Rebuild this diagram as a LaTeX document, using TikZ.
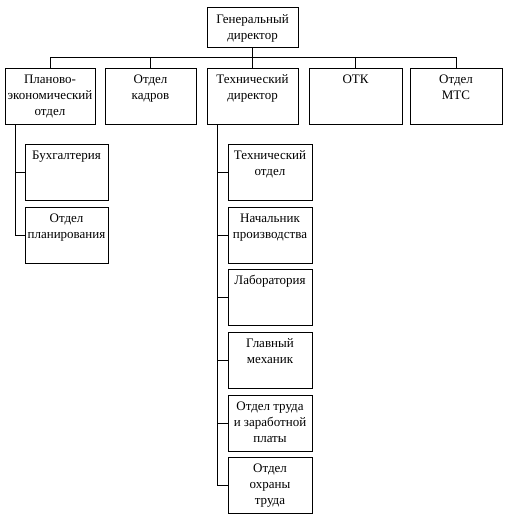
\documentclass[tikz,border=0pt]{standalone}
\usepackage{fontspec}
\setmainfont{Liberation Serif}
\newcommand\bt[2]{\vbox to #1{\vskip4pt\hbox{\begin{tabular}{@{}c@{}}#2\end{tabular}}\vfill}}
\begin{document}
\begin{tikzpicture}[x=1pt,y=-1pt,
  unit/.style={draw=black, line width=1pt, inner sep=0pt, minimum height=56pt, font=\fontsize{13}{16}\selectfont},
  link/.style={draw=black, line width=1pt}]
\useasboundingbox (0,0) rectangle (506,519);
% top
\node[unit, minimum width=91pt, minimum height=40pt] (gd) at (252.5,28) {\bt{40pt}{Генеральный\\директор}};
% row 2
\node[unit, minimum width=90pt] (pe) at (50,96) {\bt{56pt}{Планово-\\экономический\\отдел}};
\node[unit, minimum width=91pt] (kadr) at (150.5,96) {\bt{56pt}{Отдел\\кадров}};
\node[unit, minimum width=91pt] (td) at (252.5,96) {\bt{56pt}{Технический\\директор}};
\node[unit, minimum width=93pt] (otk) at (355.5,96) {\bt{56pt}{ОТК}};
\node[unit, minimum width=92pt] (mts) at (456,96) {\bt{56pt}{Отдел\\МТС}};
% left branch
\node[unit, minimum width=83pt] (buh) at (66.5,172) {\bt{56pt}{Бухгалтерия}};
\node[unit, minimum width=83pt] (plan) at (66.5,235) {\bt{56pt}{Отдел\\планирования}};
% right branch
\node[unit, minimum width=84pt] (to) at (270,172) {\bt{56pt}{Технический\\отдел}};
\node[unit, minimum width=84pt] (np) at (270,235.5) {\bt{56pt}{Начальник\\производства}};
\node[unit, minimum width=84pt] (lab) at (270,297.5) {\bt{56pt}{Лаборатория}};
\node[unit, minimum width=84pt] (gm) at (270,360) {\bt{56pt}{Главный\\механик}};
\node[unit, minimum width=84pt] (otzp) at (270,423) {\bt{56pt}{Отдел труда\\и заработной\\платы}};
\node[unit, minimum width=84pt] (oot) at (270,485.5) {\bt{56pt}{Отдел\\охраны\\труда}};
% connectors
\foreach \t in {pe,kadr,td,otk,mts}
  \draw[link] (gd.south) |- ([yshift=10pt]\t.north) -- (\t.north);
\foreach \t in {buh,plan}
  \draw[link] ([xshift=11pt]pe.south west) |- (\t.west);
\foreach \t in {to,np,lab,gm,otzp,oot}
  \draw[link] ([xshift=11pt]td.south west) |- (\t.west);
\end{tikzpicture}
\end{document}
